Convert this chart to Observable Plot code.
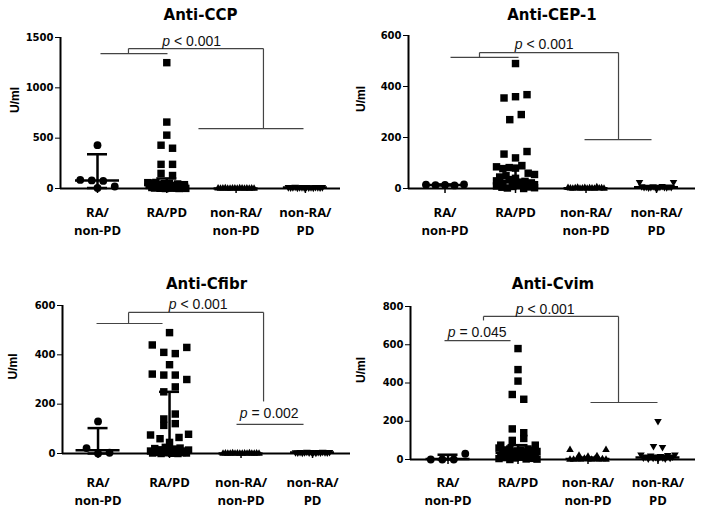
<!DOCTYPE html>
<html><head><meta charset="utf-8">
<script src="https://cdn.jsdelivr.net/npm/d3@7"></script>
<script src="https://cdn.jsdelivr.net/npm/@observablehq/plot@0.6"></script>
<style>
body{margin:0;background:#fff;}
#chart{position:relative;width:704px;height:509px;overflow:hidden;background:#fff;}
#chart svg{position:absolute;}
</style></head><body><div id="chart"></div>
<script>
// ---------- categories ----------
const groups = ["RA/\nnon-PD", "RA/PD", "non-RA/\nnon-PD", "non-RA/\nPD"];

// ---------- Anti-CCP (U/ml) ----------
const ccpRaNonPd = [430, 85, 80, 75, 20, 5];
const ccpRaPd = [1250, 660, 530, 430, 400, 240, 240, 150, 129, 58, 30, 55, 10, 45, 5, 60, 20, 40, 2, 35, 15, 50, 0, 25, 8, 52, 12, 3, 30, 18, 6, 45, 0, 22, 10, 4, 38, 1];
const ccpNonRaNonPd = [2, 0, 1, 3, 0, 0, 2, 1, 0, 3, 1, 0, 2, 0, 1, 0];
const ccpNonRaPd = [12, 8, 10, 15, 6, 10, 12, 8, 14, 9, 11, 7, 13, 10, 8, 12];
const ccpMedian = [80, 40, 1, 10];
const ccpLow = [5, 5, 0, 6];
const ccpHigh = [340, 100, 2, 13];

// ---------- Anti-CEP-1 (U/ml) ----------
const cepRaNonPd = [15, 13, 14, 12, 16];
const cepRaPd = [490, 355, 360, 368, 270, 290, 135, 120, 145, 85, 78, 82, 80, 90, 30, 60, 10, 45, 20, 50, 5, 35, 15, 40, 2, 25, 55, 8, 20, 12, 0, 28, 18, 6, 22, 3, 15];
const cepNonRaNonPd = [3, 1, 0, 2, 4, 0, 1, 3, 0, 2, 1, 0, 5, 1, 2, 0];
const cepNonRaPd = [25, 8, 5, 6, 3, 5, 8, 4, 3, 6, 9, 5, 4, 7, 5, 25];
const cepMedian = [14, 25, 1, 5];
const cepLow = [12, 8, 0, 3];
const cepHigh = [16, 80, 3, 8];

// ---------- Anti-Cfibr (U/ml) ----------
const cfibrRaNonPd = [130, 22, 0, 3];
const cfibrRaPd = [490, 440, 410, 405, 430, 360, 322, 318, 318, 300, 250, 270, 140, 160, 114, 121, 75, 60, 45, 65, 78, 10, 2, 20, 5, 15, 0, 8, 25, 3, 12, 1, 18, 6, 0, 22, 4, 10, 2, 14];
const cfibrNonRaNonPd = [0, 1, 0, 0, 2, 0, 1, 0, 0, 1, 0, 2, 0, 0, 1, 0];
const cfibrNonRaPd = [4, 3, 5, 2, 4, 6, 3, 5, 4, 2, 5, 3, 6, 4, 3, 5];
const cfibrMedian = [13, 15, 0, 4];
const cfibrLow = [0, 2, 0, 2];
const cfibrHigh = [103, 250, 1, 5];

// ---------- Anti-Cvim (U/ml) ----------
const cvimRaNonPd = [0, 0, 0, 30];
const cvimRaPd = [580, 470, 410, 340, 315, 160, 140, 75, 100, 110, 75, 60, 20, 45, 5, 35, 50, 10, 30, 55, 40, 25, 15, 45, 0, 35, 50, 20, 8, 30, 40, 55, 12, 3, 25, 38, 6, 48, 2, 28, 42];
const cvimNonRaNonPd = [50, 20, 15, 0, 18, 50, 0, 2, 0, 5, 1, 0, 3, 0, 2, 0];
const cvimNonRaPd = [200, 70, 65, 25, 10, 15, 5, 20, 8, 12, 3, 18, 10, 5, 22, 8, 15, 25];
const cvimMedian = [3, 35, 2, 10];
const cvimLow = [0, 10, 0, 3];
const cvimHigh = [25, 75, 10, 20];

// ---------- significance annotations (x in category units, y in U/ml) ----------
const ccpBrackets = [{a1: 1.043, a2: 2.01, ya: 1340, ja: 1.447, top: 1390, jb: 3.395, yb: 595, b1: 2.457, b2: 3.973}];
const ccpLines = [];
const ccpP = [{x: 2.046, y: 1413, rest: "< 0.001"}];

const cepBrackets = [{a1: 1.078, a2: 2.043, ya: 514, ja: 1.489, top: 533, jb: 3.461, yb: 192, b1: 2.979, b2: 3.929}];
const cepLines = [];
const cepP = [{x: 2.099, y: 546, rest: "< 0.001"}];

const cfibrBrackets = [{a1: 0.979, a2: 1.902, ya: 527, ja: 1.427, top: 572, jb: 3.315, yb: 211, b1: null, b2: null}];
const cfibrLines = [{x1: 2.937, x2: 3.874, y: 118}];
const cfibrP = [{x: 2.098, y: 587, rest: "< 0.001"}, {x: 3.091, y: 145, rest: "= 0.002"}];

const cvimBrackets = [{a1: null, a2: null, ya: 727, ja: 1.507, top: 748, jb: 3.436, yb: 298, b1: 3.036, b2: 3.993}];
const cvimLines = [{x1: 0.95, x2: 1.893, y: 622}];
const cvimP = [{x: 1.107, y: 641, rest: "= 0.045"}, {x: 2.079, y: 761, rest: "< 0.001"}];

// ---------- symbols ----------
const sqrt3 = Math.sqrt(3);
const triangleDown = {
  draw(context, size) {
    const y = -Math.sqrt(size / (sqrt3 * 3));
    context.moveTo(0, -y * 2);
    context.lineTo(-sqrt3 * y, y);
    context.lineTo(sqrt3 * y, y);
    context.closePath();
  }
};
const markers = [
  {symbol: "circle", r: 3.9, rowPx: 8, spacing: 11.5, maxSpan: 38},
  {symbol: "square", r: 4.2, rowPx: 9, spacing: 11.5, maxSpan: 38},
  {symbol: "triangle", r: 2.8, rowPx: 7, spacing: 9, maxSpan: 36},
  {symbol: triangleDown, r: 2.8, rowPx: 7, spacing: 9, maxSpan: 34}
];

// ---------- panels ----------
const panels = [
  {title: "Anti-CCP", groupsData: [ccpRaNonPd, ccpRaPd, ccpNonRaNonPd, ccpNonRaPd], med: ccpMedian, lo: ccpLow, hi: ccpHigh,
   brackets: ccpBrackets, lines: ccpLines, pl: ccpP,
   left: 0, top: 0, width: 352, height: 254, mL: 60, mR: 12, mT: 37, mB: 66, xDomain: [0.466, 4.507], yMax: 1500, yTicks: [0, 500, 1000, 1500],
   titleDy: -18, ylabDx: -45, xlabDy: 16},
  {title: "Anti-CEP-1", groupsData: [cepRaNonPd, cepRaPd, cepNonRaNonPd, cepNonRaPd], med: cepMedian, lo: cepLow, hi: cepHigh,
   brackets: cepBrackets, lines: cepLines, pl: cepP,
   left: 352, top: 0, width: 352, height: 254, mL: 56, mR: 9, mT: 35, mB: 66, xDomain: [0.482, 4.553], yMax: 600, yTicks: [0, 200, 400, 600],
   titleDy: -16, ylabDx: -47, xlabDy: 15.5},
  {title: "Anti-Cfibr", groupsData: [cfibrRaNonPd, cfibrRaPd, cfibrNonRaNonPd, cfibrNonRaPd], med: cfibrMedian, lo: cfibrLow, hi: cfibrHigh,
   brackets: cfibrBrackets, lines: cfibrLines, pl: cfibrP,
   left: 0, top: 254, width: 352, height: 255, mL: 62, mR: 2, mT: 51, mB: 56, xDomain: [0.503, 4.531], yMax: 600, yTicks: [0, 200, 400, 600],
   titleDy: -17, ylabDx: -49.5, xlabDy: 21},
  {title: "Anti-Cvim", groupsData: [cvimRaNonPd, cvimRaPd, cvimNonRaNonPd, cvimNonRaPd], med: cvimMedian, lo: cvimLow, hi: cvimHigh,
   brackets: cvimBrackets, lines: cvimLines, pl: cvimP,
   left: 352, top: 254, width: 352, height: 255, mL: 58, mR: 9, mT: 52, mB: 50, xDomain: [0.464, 4.536], yMax: 800, yTicks: [0, 200, 400, 600, 800],
   titleDy: -18, ylabDx: -49.5, xlabDy: 15}
];

// scatter layout: rows of nearby values spread horizontally (like a column scatter)
function swarm(values, gi, p) {
  const m = markers[gi];
  const pyu = (p.height - p.mT - p.mB) / p.yMax;
  const pxx = (p.width - p.mL - p.mR) / (p.xDomain[1] - p.xDomain[0]);
  const idx = values.map((v, i) => i).sort((a, b) => values[b] - values[a] || a - b);
  const rows = [];
  let cur = null;
  for (const i of idx) {
    if (cur && (values[cur.top] - values[i]) * pyu <= m.rowPx) cur.items.push(i);
    else { cur = {top: i, items: [i]}; rows.push(cur); }
  }
  const out = [];
  for (const row of rows) {
    const items = row.items.slice().sort((a, b) => a - b);
    const n = items.length;
    const sp = n > 1 ? Math.min(m.spacing, m.maxSpan / (n - 1)) : 0;
    items.forEach((i, k) => out.push({g: gi, v: values[i], x: gi + 1 + (k - (n - 1) / 2) * sp / pxx}));
  }
  return out;
}

function bracketSegments(b) {
  const s = [];
  if (b.a1 != null) s.push({x1: b.a1, y1: b.ya, x2: b.a2, y2: b.ya});
  s.push({x1: b.ja, y1: b.ya, x2: b.ja, y2: b.top});
  s.push({x1: b.ja, y1: b.top, x2: b.jb, y2: b.top});
  s.push({x1: b.jb, y1: b.top, x2: b.jb, y2: b.yb});
  if (b.b1 != null) s.push({x1: b.b1, y1: b.yb, x2: b.b2, y2: b.yb});
  return s;
}

const chart = document.getElementById("chart");
for (const p of panels) {
  const pxx = (p.width - p.mL - p.mR) / (p.xDomain[1] - p.xDomain[0]);
  const stats = groups.map((g, i) => ({i: i + 1, med: p.med[i], lo: p.lo[i], hi: p.hi[i]}));
  const segs = p.brackets.flatMap(bracketSegments).concat(p.lines.map(l => ({x1: l.x1, y1: l.y, x2: l.x2, y2: l.y})));
  const dotMarks = p.groupsData.map((vals, gi) =>
    Plot.dot(swarm(vals, gi, p), {x: "x", y: "v", symbol: markers[gi].symbol, r: markers[gi].r, fill: "black", stroke: "none"}));
  const medHalf = 22 / pxx, capHalf = 10 / pxx;
  const svg = Plot.plot({
    width: p.width, height: p.height,
    marginLeft: p.mL, marginRight: p.mR, marginTop: p.mT, marginBottom: p.mB,
    x: {domain: p.xDomain, axis: null},
    y: {domain: [0, p.yMax], ticks: p.yTicks, tickSize: 5, tickPadding: 2, tickFormat: d => String(d), label: null},
    style: {fontFamily: "DejaVu Sans", fontSize: "10px", fontWeight: "bold", color: "black", background: "white", overflow: "visible"},
    marks: [
      ...dotMarks,
      Plot.ruleX(stats, {x: "i", y1: "lo", y2: "hi", strokeWidth: 2.5, stroke: "black"}),
      Plot.ruleY(stats, {y: "med", x1: d => d.i - medHalf, x2: d => d.i + medHalf, strokeWidth: 2.5, stroke: "black"}),
      Plot.ruleY(stats, {y: "hi", x1: d => d.i - capHalf, x2: d => d.i + capHalf, strokeWidth: 2.5, stroke: "black"}),
      Plot.ruleY(stats, {y: "lo", x1: d => d.i - capHalf, x2: d => d.i + capHalf, strokeWidth: 2.5, stroke: "black"}),
      Plot.ruleX([p.xDomain[0]], {x: d => d, y1: 0, y2: p.yMax, strokeWidth: 2, stroke: "black"}),
      Plot.ruleY([0], {x1: p.xDomain[0], x2: p.xDomain[1], strokeWidth: 2, stroke: "black"}),
      Plot.ruleX([1, 2, 3, 4], {x: d => d, y1: 0, y2: 0, insetBottom: -5, strokeWidth: 1.5, stroke: "black"}),
      Plot.link(segs, {x1: "x1", y1: "y1", x2: "x2", y2: "y2", stroke: "#444", strokeWidth: 1.2}),
      Plot.text(p.pl, {x: "x", y: "y", text: () => "p", textAnchor: "end", lineAnchor: "bottom", fontFamily: "Liberation Sans", fontStyle: "italic", fontWeight: "normal", fontSize: 14, fill: "#111"}),
      Plot.text(p.pl, {x: "x", y: "y", text: "rest", textAnchor: "start", dx: 4, lineAnchor: "bottom", fontFamily: "Liberation Sans", fontWeight: "normal", fontSize: 14, fill: "#111"}),
      Plot.text([p.title], {frameAnchor: "top", dy: p.titleDy, lineAnchor: "bottom", fontFamily: "DejaVu Sans", fontWeight: "bold", fontSize: 15}),
      Plot.text(["U/ml"], {frameAnchor: "left", dx: p.ylabDx, rotate: -90, fontFamily: "Liberation Sans", fontWeight: "bold", fontSize: 12}),
      Plot.text(groups, {x: (d, i) => i + 1, frameAnchor: "bottom", lineAnchor: "top", dy: p.xlabDy, fontFamily: "Open Sans", fontWeight: "bold", fontSize: 13, lineHeight: 1.38})
    ]
  });
  svg.style.left = p.left + "px";
  svg.style.top = p.top + "px";
  chart.appendChild(svg);
}
</script>
</body></html>
